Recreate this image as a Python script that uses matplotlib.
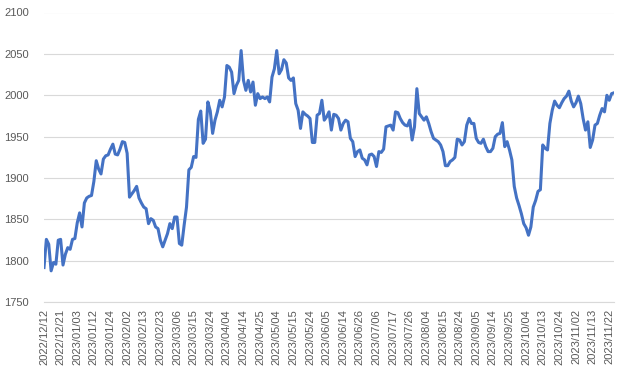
import matplotlib
matplotlib.use('Agg')
import matplotlib.pyplot as plt
import pandas as pd

# NYSE closed days in the window (category axis = trading days only)
holidays = ['2022-12-26', '2023-01-02', '2023-01-16', '2023-02-20', '2023-04-07',
            '2023-05-29', '2023-06-19', '2023-07-04', '2023-09-04', '2023-11-23']

price = [
    1792, 1826, 1820, 1788, 1798, 1796, 1825, 1826, 1795, 1808,   # 0
    1816, 1814, 1826, 1827, 1846, 1858, 1841, 1870, 1876, 1878,   # 10
    1879, 1896, 1921, 1911, 1905, 1923, 1927, 1928, 1935, 1941,   # 20
    1929, 1928, 1935, 1944, 1943, 1930, 1877, 1881, 1885, 1890,   # 30
    1876, 1870, 1865, 1863, 1845, 1851, 1849, 1841, 1839, 1825,   # 40
    1817, 1825, 1833, 1845, 1839, 1853, 1853, 1821, 1819, 1843,   # 50
    1865, 1910, 1913, 1926, 1925, 1971, 1981, 1942, 1947, 1992,   # 60
    1981, 1954, 1970, 1980, 1994, 1986, 1998, 2036, 2034, 2028,   # 70
    2002, 2012, 2018, 2054, 2018, 2006, 2018, 2004, 2016, 1988,   # 80
    2002, 1996, 1998, 1996, 1998, 1992, 2022, 2032, 2054, 2026,   # 90
    2031, 2043, 2039, 2021, 2018, 2021, 1990, 1982, 1960, 1980,   # 100
    1977, 1975, 1972, 1943, 1943, 1976, 1978, 1994, 1970, 1974,   # 110
    1980, 1958, 1977, 1976, 1972, 1958, 1966, 1970, 1968, 1948,   # 120
    1944, 1926, 1932, 1934, 1924, 1922, 1916, 1928, 1929, 1926,   # 130
    1914, 1932, 1931, 1935, 1962, 1963, 1964, 1958, 1980, 1979,   # 140
    1972, 1967, 1964, 1963, 1970, 1946, 1962, 2008, 1978, 1974,   # 150
    1970, 1974, 1966, 1956, 1948, 1946, 1944, 1940, 1932, 1915,   # 160
    1915, 1920, 1922, 1925, 1947, 1946, 1940, 1944, 1964, 1972,   # 170
    1966, 1966, 1948, 1943, 1942, 1947, 1938, 1932, 1932, 1936,   # 180
    1950, 1953, 1954, 1967, 1938, 1944, 1934, 1922, 1890, 1876,   # 190
    1867, 1857, 1845, 1840, 1831, 1841, 1865, 1873, 1884, 1886,   # 200
    1940, 1936, 1934, 1966, 1982, 1993, 1988, 1985, 1991, 1996,   # 210
    1999, 2005, 1993, 1986, 1991, 1999, 1990, 1972, 1958, 1968,   # 220
    1937, 1946, 1964, 1966, 1976, 1984, 1980, 2000, 1994, 2002,   # 230
    2003,                                                         # 240
]

dates = pd.bdate_range('2022-12-12', periods=len(price), freq='C', holidays=holidays)
labels = [d.strftime('%Y/%m/%d') for d in dates]
yticks = [1750, 1800, 1850, 1900, 1950, 2000, 2050, 2100]

txt = '#595959'
grid = '#D9D9D9'
plt.rcParams['font.family'] = ['Liberation Sans', 'DejaVu Sans']

fig = plt.figure(figsize=(6.29, 3.77), dpi=100)
ax = fig.add_axes([44/629, 1-302.3/377, (614-44)/629, (302.3-12.5)/377])

x = list(range(len(price)))
ax.plot(x, price, color='#4472C4', lw=2.2, solid_joinstyle='round')

ax.set_xlim(0, len(price)-1)
ax.set_ylim(1750, 2100)
ax.set_yticks(yticks)
ax.set_yticklabels([str(v) for v in yticks], fontsize=8, color=txt)
tick_pos = x[::7]
ax.set_xticks(tick_pos)
ax.set_xticklabels([labels[i] for i in tick_pos], rotation=90, fontsize=8, color=txt)

ax.yaxis.grid(True, color=grid, lw=0.8)
ax.set_axisbelow(True)
ax.tick_params(axis='both', length=0)
ax.tick_params(axis='y', pad=11)
ax.tick_params(axis='x', pad=5)
for s in ['top', 'left', 'right']:
    ax.spines[s].set_visible(False)
ax.spines['bottom'].set_color(grid)
ax.spines['bottom'].set_linewidth(0.8)

fig.savefig('out.png', dpi=100)
